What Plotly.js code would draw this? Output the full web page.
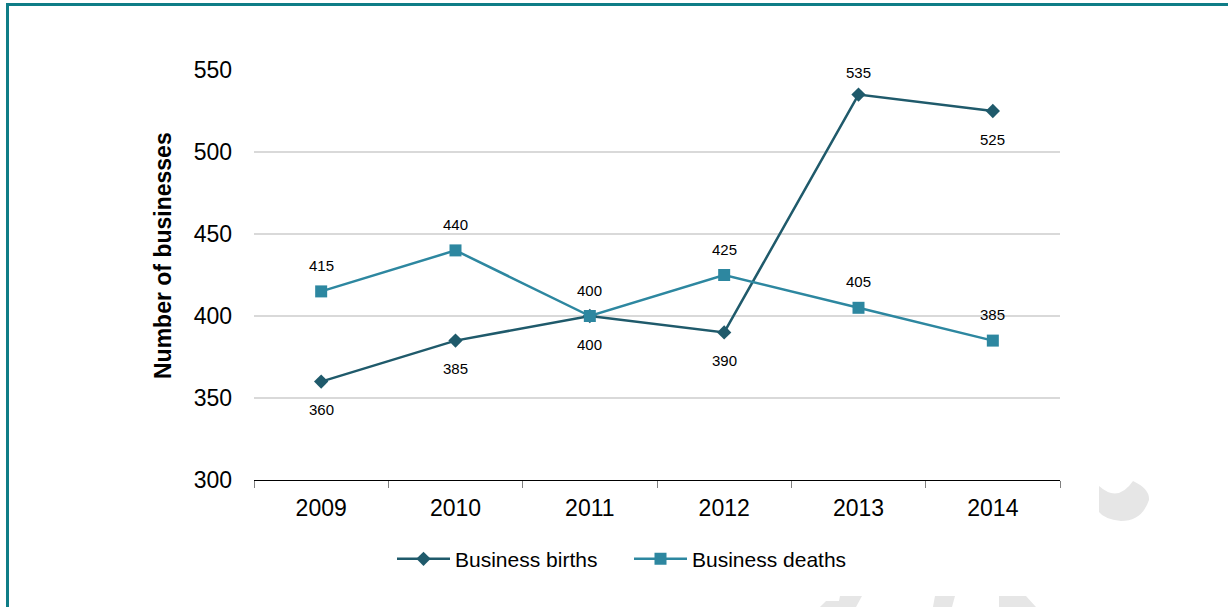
<!DOCTYPE html>
<html>
<head>
<meta charset="utf-8">
<script src="https://cdn.plot.ly/plotly-3.0.1.min.js"></script>
<style>
html,body{margin:0;padding:0;background:#fff;overflow:hidden;}
#frame{position:absolute;left:6px;top:3px;width:1300px;height:700px;border-left:3px solid #0f7d87;border-top:3px solid #0f7d87;box-sizing:border-box;pointer-events:none;z-index:5;}
#chart{position:absolute;left:0;top:0;width:1228px;height:607px;}
</style>
</head>
<body>
<div id="chart"></div>
<div id="frame"></div>
<script>
const years = ['2009','2010','2011','2012','2013','2014'];
const births = [360, 385, 400, 390, 535, 525];
const deaths = [415, 440, 400, 425, 405, 385];
const birthsLabelPos = ['below','below','below','below','above','below'];
const deathsLabelPos = ['above','above','above','above','above','above'];
const yTitle = 'Number of businesses';

const birthColor = '#1f5a6b';
const deathColor = '#2d87a0';

const traces = [
  {x: years, y: births, name: 'Business births', type: 'scatter', mode: 'lines+markers',
   line: {color: birthColor, width: 2.5}, marker: {symbol: 'diamond', size: 11, color: birthColor}},
  {x: years, y: deaths, name: 'Business deaths', type: 'scatter', mode: 'lines+markers',
   line: {color: deathColor, width: 2.5}, marker: {symbol: 'square', size: 12, color: deathColor}}
];

const annotations = [];
years.forEach((yr, i) => {
  annotations.push({x: i, y: births[i], text: String(births[i]), showarrow: false,
    yshift: birthsLabelPos[i] === 'above' ? 22 : -28, font: {size: 15, color: '#000'}});
  annotations.push({x: i, y: deaths[i], text: String(deaths[i]), showarrow: false,
    yshift: deathsLabelPos[i] === 'above' ? 26 : -28, font: {size: 15, color: '#000'}});
});

// decorative watermark fragments (pixel -> paper conversion)
const L = 254, R = 1060, T = 70, B = 480;
function px2x(px) { return (px - L) / (R - L); }
function py2y(py) { return (B - py) / (B - T); }
function P(px, py) { return px2x(px).toFixed(4) + ',' + py2y(py).toFixed(4); }

annotations.push({xref: 'paper', yref: 'paper', x: px2x(163), y: py2y(256), text: '<b>' + yTitle + '</b>',
  textangle: -90, showarrow: false, font: {size: 23, color: '#000'}, xanchor: 'center', yanchor: 'middle'});

const wmFill = '#e6e6e6';
const shapes = [
  {type: 'path', xref: 'paper', yref: 'paper', fillcolor: wmFill, line: {width: 0}, layer: 'below',
   path: 'M' + P(1099,486) + ' Q' + P(1118,503) + ' ' + P(1133,481) + ' Q' + P(1150,489) + ' ' + P(1149,500) +
         ' Q' + P(1142,521) + ' ' + P(1121,521) + ' Q' + P(1104,519) + ' ' + P(1099,512) + ' Z'},
  {type: 'path', xref: 'paper', yref: 'paper', fillcolor: wmFill, line: {width: 0}, layer: 'below',
   path: 'M' + P(820,607) + ' L' + P(826,601) + ' L' + P(839,601) + ' L' + P(840,596) + ' L' + P(862,596) + ' L' + P(856,607) + ' Z'},
  {type: 'path', xref: 'paper', yref: 'paper', fillcolor: wmFill, line: {width: 0}, layer: 'below',
   path: 'M' + P(933,607) + ' L' + P(935,596) + ' L' + P(955,596) + ' L' + P(952,607) + ' Z'},
  {type: 'path', xref: 'paper', yref: 'paper', fillcolor: wmFill, line: {width: 0}, layer: 'below',
   path: 'M' + P(999,607) + ' L' + P(999,596) + ' L' + P(1026,596) + ' L' + P(1036,607) + ' Z'}
];

const layout = {
  width: 1228, height: 607,
  margin: {l: 254, r: 168, t: 70, b: 127, autoexpand: false},
  paper_bgcolor: '#fff', plot_bgcolor: '#fff',
  font: {family: 'Liberation Sans, Arial, sans-serif', color: '#000'},
  showlegend: true,
  legend: {orientation: 'h', x: px2x(629), xanchor: 'center', y: -0.143, yanchor: 'top',
    font: {size: 21, color: '#000'}, itemwidth: 53, entrywidth: 169, tracegroupgap: 0},
  xaxis: {type: 'category', range: [-0.5, 5.5], showgrid: false, zeroline: false,
    showline: true, linecolor: '#000', linewidth: 1,
    ticks: 'outside', tickson: 'boundaries', ticklen: 7, tickcolor: '#808080', tickwidth: 1,
    tickfont: {size: 23}, ticklabelstandoff: 7, fixedrange: true},
  yaxis: {range: [300, 550], dtick: 50, tick0: 300, showgrid: true, gridcolor: '#d9d9d9', gridwidth: 1.5,
    zeroline: false, showline: false, ticks: '', tickfont: {size: 23}, ticklabelstandoff: 21,
    automargin: false},
  annotations: annotations,
  shapes: shapes
};

Plotly.newPlot('chart', traces, layout, {staticPlot: true, displayModeBar: false});
</script>
</body>
</html>
